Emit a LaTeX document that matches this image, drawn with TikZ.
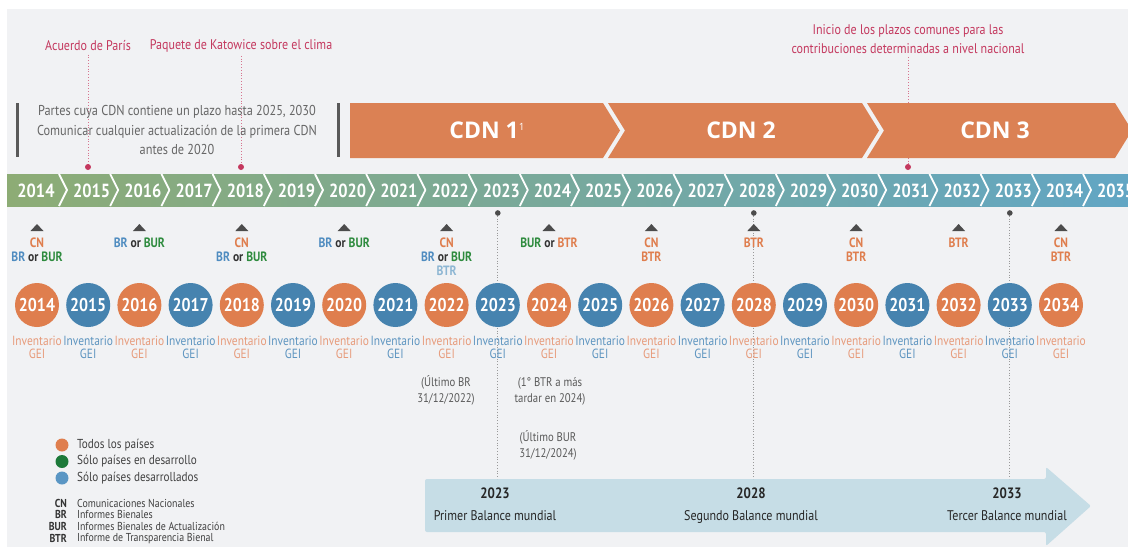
\documentclass[tikz,border=0pt]{standalone}
\usepackage{fontspec}
\setmainfont{PT Sans}[FakeStretch=0.86]
\newfontfamily\cdnfont{Open Sans}
\usetikzlibrary{calc}

\definecolor{panel}{HTML}{F1F2F4}
\definecolor{crimson}{HTML}{C4385E}
\definecolor{cdnorange}{HTML}{DB8154}
\definecolor{allorange}{HTML}{DF7E4E}
\definecolor{devblue}{HTML}{4683AF}
\definecolor{invorange}{HTML}{E79B7B}
\definecolor{invblue}{HTML}{5E95C0}
\definecolor{barleft}{HTML}{8DAC75}
\definecolor{barmid}{HTML}{7AB0A2}
\definecolor{barright}{HTML}{62A6C4}
\definecolor{stockblue}{HTML}{C6DDE6}
\definecolor{repgreen}{HTML}{2E8B3E}
\definecolor{repblue}{HTML}{4F8CC0}
\definecolor{replight}{HTML}{8DB6D3}
\definecolor{leggreen}{HTML}{1D7A3A}
\definecolor{legblue}{HTML}{5A96C4}

% report labels
\newcommand\lcn{\textcolor{allorange}{CN}}
\newcommand\lbr{\textcolor{repblue}{BR}}
\newcommand\lbur{\textcolor{repgreen}{BUR}}
\newcommand\lbtr{\textcolor{allorange}{BTR}}
\newcommand\lsep{\textcolor{black!80}{or}}

\begin{document}
\begin{tikzpicture}[x=1pt, y=-1pt,
  yearcirc/.style={circle, minimum size=44pt, inner sep=0pt, text=white, font=\bfseries\fontsize{18.5}{18.5}\selectfont},
  inv/.style={align=center, inner sep=0pt, font=\fontsize{13.3}{13}\selectfont},
  barlabel/.style={text=white, inner sep=0pt, font=\bfseries\fontsize{19}{19}\selectfont},
  report/.style={align=center, anchor=north, inner sep=0pt, font=\bfseries\fontsize{13.5}{14}\selectfont},
  event/.style={text=crimson, align=center, font=\fontsize{14}{19}\selectfont},
  eventline/.style={draw=crimson!70, dotted, line width=0.8pt},
  stockline/.style={draw=black!40, dotted, line width=0.8pt},
  note/.style={text=black!65, align=center, font=\fontsize{12.5}{16}\selectfont},
  cdn/.style={text=white, font=\cdnfont\bfseries\fontsize{23}{23}\selectfont},
  stocktext/.style={text=black!85, align=center, anchor=north, inner sep=0pt, font=\fontsize{14}{22}\selectfont},
  legtext/.style={anchor=west, inner sep=0pt, text=black!75, font=\fontsize{13}{12}\selectfont},
  abbrtext/.style={anchor=west, inner sep=0pt, text=black!75, font=\fontsize{11.5}{12}\selectfont},
  abbr/.style={anchor=east, inner sep=0pt, text=black!80, font=\bfseries\fontsize{11.5}{12}\selectfont},
]
\useasboundingbox (0,0) rectangle (1128,547);
\fill[white] (0,0) rectangle (1128,547);
\fill[panel] (7,9) rectangle (1128,547);

% events on top
\node[event] (paris) at (88,46) {Acuerdo de París};
\node[event] (katowice) at (241,46) {Paquete de Katowice sobre el clima};
\node[event] (inicio) at (908,39) {Inicio de los plazos comunes para las\\contribuciones determinadas a nivel nacional};
\coordinate (e2015) at (88,167);
\coordinate (e2018) at (241,167);
\coordinate (e2031) at (908,167);
\draw[eventline] (paris) -- (e2015);
\draw[eventline] (katowice) -- (e2018);
\draw[eventline] (inicio) -- (e2031);
\foreach \e in {e2015,e2018,e2031}
  \fill[crimson] (\e) circle (3pt);

% first period
\draw[line width=3pt, black!65] (17,103) -- (17,157);
\draw[line width=3pt, black!65] (338,103) -- (338,157);
\node[text=black!60, align=center, font=\fontsize{14.3}{19.5}\selectfont] (first) at (177,130)
  {Partes cuya CDN contiene un plazo hasta 2025, 2030\\Comunicar cualquier actualización de la primera CDN\\antes de 2020};

% CDN band
\fill[cdnorange] (350,103) -- (603,103) -- (620,130.5) -- (603,158) -- (350,158) -- cycle;
\fill[cdnorange] (608,103) -- (862,103) -- (879,130.5) -- (862,158) -- (608,158) -- (625,130.5) -- cycle;
\fill[cdnorange] (867,103) -- (1115,103) -- (1132,130.5) -- (1115,158) -- (867,158) -- (884,130.5) -- cycle;
\node[cdn] (cdn1) at (487,130) {CDN 1\raisebox{8pt}{\fontsize{10}{10}\selectfont\mdseries 1}};
\node[cdn] (cdn2) at (741,130) {CDN 2};
\node[cdn] (cdn3) at (995,130) {CDN 3};

% year bar
\shade[left color=barleft, middle color=barmid, right color=barright] (7,174) rectangle (1128,206);
\foreach \i in {0,...,21} {
  \pgfmathsetmacro\ax{67+51.2*\i}
  \draw[white, line width=1.8pt, line join=round] (\ax-8,174) -- (\ax,190) -- (\ax-8,206);
  \pgfmathtruncatemacro\yr{2014+\i}
  \pgfmathsetmacro\xx{\i==0 ? 36 : 40.5+51.2*\i}
  \node[barlabel] (y\yr) at (\xx,191) {\yr};
}

% global stocktake arrow
\fill[stockblue, rounded corners=2pt] (425,479) -- (1046,479) -- (1046,467) -- (1091,506)
  -- (1046,546) -- (1046,532) -- (425,532) -- cycle;
\coordinate (stocktop) at (425,479);
\node[stocktext] (b2023) at (495,488) {{\bfseries\fontsize{15}{22}\selectfont 2023}\\Primer Balance mundial};
\node[stocktext] (b2028) at (751,488) {{\bfseries\fontsize{15}{22}\selectfont 2028}\\Segundo Balance mundial};
\node[stocktext] (b2033) at (1007,488) {{\bfseries\fontsize{15}{22}\selectfont 2033}\\Tercer Balance mundial};
\foreach \yr in {2023,2028,2033} {
  \pgfmathsetmacro\xx{37+51.2*(\yr-2014)}
  \coordinate (s\yr) at (\xx,213);
  \draw[stockline] (s\yr) -- (s\yr |- stocktop);
  \fill[black!70] (s\yr) circle (2.8pt);
}

% reports every two years
\foreach \yr/\txt in {2014/{\lcn\\\lbr{} \lsep{} \lbur}, 2016/{\lbr{} \lsep{} \lbur},
    2018/{\lcn\\\lbr{} \lsep{} \lbur}, 2020/{\lbr{} \lsep{} \lbur},
    2022/{\lcn\\\lbr{} \lsep{} \lbur\\\textcolor{replight}{BTR}}, 2024/{\lbur{} \lsep{} \lbtr},
    2026/{\lcn\\\lbtr}, 2028/{\lbtr}, 2030/{\lcn\\\lbtr}, 2032/{\lbtr}, 2034/{\lcn\\\lbtr}} {
  \pgfmathsetmacro\xx{37+51.2*(\yr-2014)}
  \fill[black!70] (\xx-6.5,231) -- (\xx+6.5,231) -- (\xx,224) -- cycle;
  \node[report] (r\yr) at (\xx,238) {\txt};
}

% greenhouse gas inventories
\foreach \i in {0,...,20} {
  \pgfmathtruncatemacro\yr{2014+\i}
  \pgfmathsetmacro\xx{37+51.2*\i}
  \ifodd\yr
    \node[yearcirc, fill=devblue] (c\yr) at (\xx,305) {\yr};
    \node[inv, text=invblue] (g\yr) at (\xx,347) {Inventario\\GEI};
  \else
    \node[yearcirc, fill=allorange] (c\yr) at (\xx,305) {\yr};
    \node[inv, text=invorange] (g\yr) at (\xx,347) {Inventario\\GEI};
  \fi
}

% notes
\node[note] (n2022) at (446,390) {(Último BR\\31/12/2022)};
\node[note] (n2024) at (550,391) {(1° BTR a más\\tardar en 2024)};
\node[note] (n2024b) at (548,445) {(Último BUR\\31/12/2024)};

% legend
\foreach \c/\t [count=\k from 0] in {allorange/Todos los países, leggreen/Sólo países en desarrollo, legblue/Sólo países desarrollados} {
  \fill[\c] (62,445+16.5*\k) circle (6.5pt);
  \node[legtext] (l\k) at (77,445+16.5*\k) {\t};
}
\foreach \a/\t [count=\k from 0] in {CN/Comunicaciones Nacionales, BR/Informes Bienales, BUR/Informes Bienales de Actualización, BTR/Informe de Transparencia Bienal} {
  \node[abbr] (a\k) at (67,503+11.8*\k) {\a};
  \node[abbrtext] (d\k) at (77,503+11.8*\k) {\t};
}
\end{tikzpicture}
\end{document}
